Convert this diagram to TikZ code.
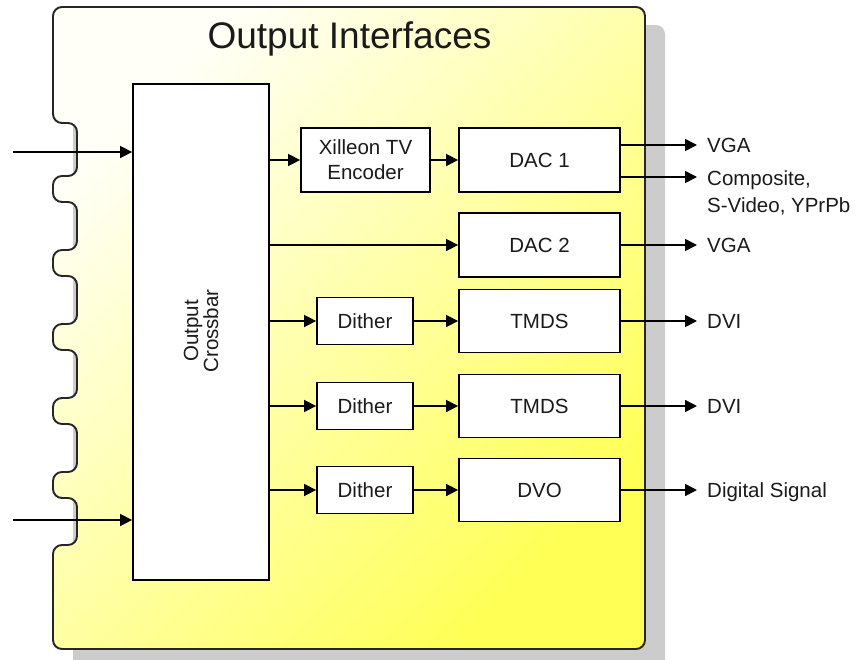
\documentclass[tikz,border=0pt]{standalone}
\usepackage{fontspec}
\setmainfont{Liberation Sans}
\usetikzlibrary{arrows.meta}
\definecolor{txt}{HTML}{1A1A1A}
\definecolor{shadowgray}{HTML}{CCCCCC}
\definecolor{ylwlight}{HTML}{FFFFF8}
\definecolor{ylwmid}{HTML}{FFFF98}
\definecolor{ylwdark}{HTML}{FFFF55}
\begin{document}
\begin{tikzpicture}[x=1pt,y=-1pt,
  box/.style={draw=black, line width=1.8pt, fill=white, inner sep=0pt, text=txt,
    font=\fontsize{20.5}{25}\selectfont, align=center},
  arr/.style={line width=1.6pt, -{Triangle[length=12pt,width=12pt]}},
  lbl/.style={anchor=base west, inner sep=0pt, text=txt,
    font=\fontsize{20.5}{27}\selectfont, align=left}]
\useasboundingbox (0,0) rectangle (859,659);
\clip (0,0) rectangle (859,659);
% shadow
\fill[shadowgray, rounded corners=9] (73,25) rectangle (665,700);
% main container
\shadedraw[draw=black!85, line width=1.9pt, rounded corners=9,
  top color=ylwlight, middle color=ylwmid, bottom color=ylwdark, shading angle=45]
  (300,7) -- (645,7) -- (645,649) -- (53,649) -- (53,545) -- (77,545)
  -- (77,498) -- (53,498) -- (53,472) -- (77,472)
  -- (77,424) -- (53,424) -- (53,398) -- (77,398)
  -- (77,350) -- (53,350) -- (53,324) -- (77,324)
  -- (77,276) -- (53,276) -- (53,250) -- (77,250)
  -- (77,202) -- (53,202) -- (53,176) -- (77,176)
  -- (77,123) -- (53,123) -- (53,7) -- cycle;
\node[text=txt, font=\fontsize{37}{40}\selectfont, inner sep=0pt] (title) at (349.5,39) {Output Interfaces};
% blocks
\node[box, minimum width=136, minimum height=496] (xbar) at (201,332) {};
\node[rotate=90, text=txt, font=\fontsize{20.5}{20}\selectfont, align=center, inner sep=0pt] (xbartxt) at (201,331) {Output\\Crossbar};
\node[box, minimum width=129, minimum height=64] (enc) at (365.5,160) {Xilleon TV\\Encoder};
\node[box, minimum width=161, minimum height=64] (dac1) at (539.5,160) {DAC 1};
\node[box, minimum width=161, minimum height=64] (dac2) at (539.5,245) {DAC 2};
\node[box, minimum width=96, minimum height=47] (dith1) at (365,321) {Dither};
\node[box, minimum width=161, minimum height=63] (tmds1) at (539.5,321) {TMDS};
\node[box, minimum width=96, minimum height=47] (dith2) at (365,406) {Dither};
\node[box, minimum width=161, minimum height=63] (tmds2) at (539.5,406) {TMDS};
\node[box, minimum width=96, minimum height=47] (dith3) at (365,490) {Dither};
\node[box, minimum width=161, minimum height=63] (dvo) at (539.5,490) {DVO};
% inputs
\coordinate (in1) at (13,152);
\coordinate (in2) at (13,520);
\draw[arr] (in1) -- (in1 -| xbar.west);
\draw[arr] (in2) -- (in2 -| xbar.west);
% internal connections
\draw[arr] (xbar.east |- enc.west) -- (enc.west);
\draw[arr] (enc.east) -- (dac1.west);
\draw[arr] (xbar.east |- dac2.west) -- (dac2.west);
\draw[arr] (xbar.east |- dith1.west) -- (dith1.west);
\draw[arr] (dith1.east) -- (tmds1.west);
\draw[arr] (xbar.east |- dith2.west) -- (dith2.west);
\draw[arr] (dith2.east) -- (tmds2.west);
\draw[arr] (xbar.east |- dith3.west) -- (dith3.west);
\draw[arr] (dith3.east) -- (dvo.west);
% outputs
\coordinate (o1) at (697,145);
\coordinate (o2) at (697,177);
\coordinate (o3) at (697,245);
\coordinate (o4) at (697,321);
\coordinate (o5) at (697,406);
\coordinate (o6) at (697,490);
\draw[arr] (dac1.east |- o1) -- (o1);
\draw[arr] (dac1.east |- o2) -- (o2);
\draw[arr] (dac2.east |- o3) -- (o3);
\draw[arr] (tmds1.east |- o4) -- (o4);
\draw[arr] (tmds2.east |- o5) -- (o5);
\draw[arr] (dvo.east |- o6) -- (o6);
\node[lbl] (l1) at (707,152.5) {VGA};
\node[lbl] (l2) at (707,212) {Composite,\\S-Video, YPrPb};
\node[lbl] (l3) at (707,252.5) {VGA};
\node[lbl] (l4) at (707,328.5) {DVI};
\node[lbl] (l5) at (707,413.5) {DVI};
\node[lbl] (l6) at (707,497.5) {Digital Signal};
\end{tikzpicture}
\end{document}
